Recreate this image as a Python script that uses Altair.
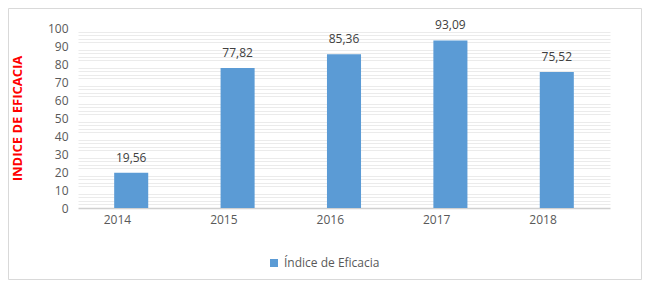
import altair as alt
import pandas as pd

years = ["2014", "2015", "2016", "2017", "2018"]
values = [19.56, 77.82, 85.36, 93.09, 75.52]
labels = ["19,56", "77,82", "85,36", "93,09", "75,52"]
series = ["Índice de Eficacia"] * 5
major_ticks = list(range(0, 101, 10))
minor_ticks = [v for v in range(0, 101, 2) if v % 10 != 0]

df = pd.DataFrame({"year": years, "value": values, "label": labels, "serie": series})

FONT = "Open Sans"
GRAY = "#595959"

base = alt.Chart(df)

frame = base.mark_rect(fill="white", fillOpacity=0, stroke="#d9d9d9", strokeWidth=1).encode(
    x=alt.value(-69.5), x2=alt.value(563.5), y=alt.value(-19.5), y2=alt.value(251.5)
).transform_filter("datum.year == '2014'")

minor = base.mark_bar(opacity=0).encode(
    x=alt.X("year:N", sort=years),
    y=alt.Y("value:Q", scale=alt.Scale(domain=[0, 100], nice=False),
            axis=alt.Axis(title=None, values=minor_ticks, labels=False, ticks=False,
                          domain=False, grid=True, gridColor="#ebebeb", orient="left")),
)

bars = base.mark_bar(color="#5B9BD5").encode(
    x=alt.X("year:N", sort=years,
            scale=alt.Scale(paddingInner=0.68, paddingOuter=0.34),
            axis=alt.Axis(title=None, labelAngle=0, labelFont=FONT, labelFontSize=12,
                          labelColor=GRAY, labelPadding=11, ticks=False,
                          domainColor="#d0d0d0", domainWidth=1.5)),
    y=alt.Y("value:Q", scale=alt.Scale(domain=[0, 100], nice=False),
            axis=alt.Axis(title="INDICE DE EFICACIA", values=major_ticks,
                          ticks=False, domain=False, labelFont=FONT, labelFontSize=12,
                          labelColor=GRAY, labelPadding=10, gridColor="#d4d4d4",
                          orient="left",
                          titleColor="#FF0000", titleFont=FONT, titleFontSize=13,
                          titleFontWeight="bold", titleAngle=270, titleX=-61, titleY=90,
                          titleAlign="center", titleBaseline="middle")),
    fill=alt.Fill("serie:N", scale=alt.Scale(range=["#5B9BD5"]),
                  legend=alt.Legend(title=None, orient="none", legendX=190, legendY=229,
                                    symbolType="square", symbolSize=64, symbolStrokeWidth=0,
                                    labelFont=FONT, labelFontSize=12, labelColor=GRAY)),
)

text = base.mark_text(baseline="bottom", dy=-8, font=FONT, fontSize=12, color="#404040").encode(
    x=alt.X("year:N", sort=years),
    y=alt.Y("value:Q", axis=None),
    text="label:N",
)

chart = alt.layer(minor, bars, text, frame).resolve_axis(y="independent").properties(
    width=532, height=180,
    autosize=alt.AutoSizeParams(type="none"),
    padding={"left": 70, "top": 20, "right": 32, "bottom": 72},
).configure_view(stroke=None)

chart.save("out.html", embed_options={"renderer": "svg", "actions": False})
